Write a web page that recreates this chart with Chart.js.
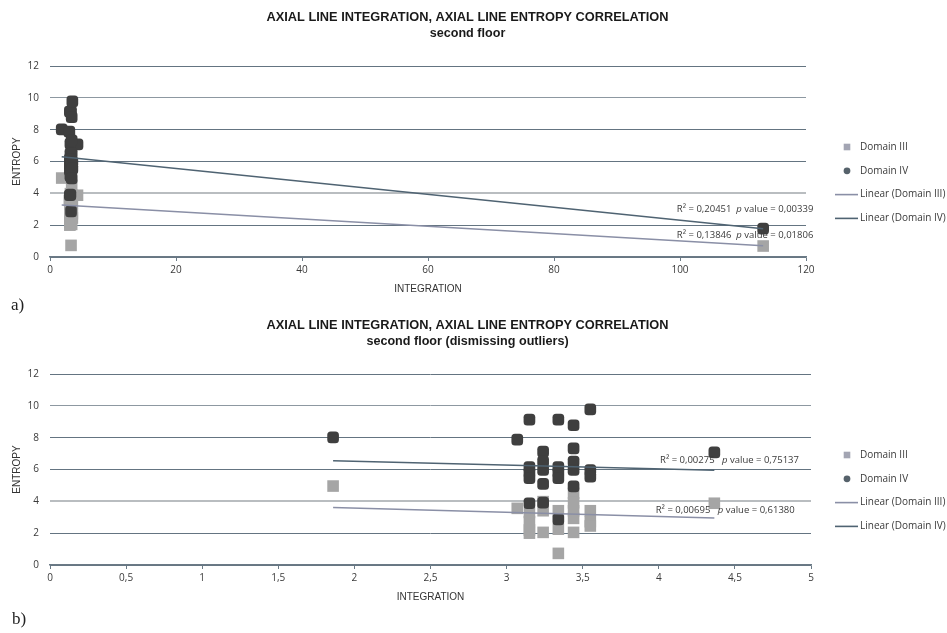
<!DOCTYPE html>
<html>
<head>
<meta charset="utf-8">
<script src="https://cdn.jsdelivr.net/npm/chart.js@4.4.0/dist/chart.umd.min.js"></script>
<style>
  html, body { margin: 0; padding: 0; background: #ffffff; }
  #page { position: relative; width: 947px; height: 633px; overflow: hidden; background: #ffffff; }
  #page canvas { position: absolute; left: 0; }
  .tag { position: absolute; font-family: "Liberation Serif", "DejaVu Serif", serif; font-size: 17px; color: #222; line-height: 1; }
</style>
</head>
<body>
<div id="page">
  <canvas id="chartA" width="947" height="300" style="top:0px"></canvas>
  <canvas id="chartB" width="947" height="300" style="top:308px"></canvas>
  <div class="tag" style="left:11px; top:296px">a)</div>
  <div class="tag" style="left:12px; top:610px">b)</div>
</div>
<script>
// ---- series names ----
const seriesNames = ['Domain III', 'Domain IV'];
const trendNames = ['Linear (Domain III)', 'Linear (Domain IV)'];

// ---- axial lines of the second floor: integration (x) and entropy (y) ----
const domain3Integration = [1.86, 3.07, 3.15, 3.15, 3.15, 3.15, 3.24, 3.24, 3.24, 3.34, 3.34, 3.34, 3.44, 3.44, 3.44, 3.44, 3.44, 3.55, 3.55, 3.55, 4.365];
const domain3Entropy     = [4.96, 3.56, 3.30, 2.72, 2.20, 2.00, 3.98, 3.41, 2.05, 3.41, 2.25, 0.73, 4.50, 3.91, 3.41, 2.93, 2.05, 3.41, 2.72, 2.45, 3.88];

const domain4Integration = [1.86, 3.07, 3.15, 3.34, 3.44, 3.55, 4.365, 3.24, 3.44, 3.24, 3.44, 3.15, 3.15, 3.15, 3.24, 3.34, 3.34, 3.34, 3.44, 3.55, 3.55, 3.24, 3.44, 3.15, 3.24, 3.34];
const domain4Entropy     = [8.02, 7.88, 9.13, 9.13, 8.78, 9.78, 7.08, 7.12, 7.33, 6.49, 6.49, 6.15, 5.80, 5.45, 5.97, 6.15, 5.80, 5.45, 5.97, 5.97, 5.55, 5.10, 4.94, 3.88, 3.92, 2.87];

// the outlying axial line (kept in the full set only)
const outlierIntegration = [113.2];
const outlierEntropy3 = [0.69];
const outlierEntropy4 = [1.78];

// ---- linear trendlines (start / end) ----
const trendAllX = [1.86, 113.2];
const trendAll3 = [3.27, 0.70];
const trendAll4 = [6.30, 1.78];
const trendClusterX = [1.86, 4.365];
const trendCluster3 = [3.62, 2.95];
const trendCluster4 = [6.55, 5.95];

// ---- fit statistics ----
const fitAllR2 = ['0,13846', '0,20451'];
const fitAllP  = ['0,01806', '0,00339'];
const fitClusterR2 = ['0,00695', '0,00275'];
const fitClusterP  = ['0,61380', '0,75137'];

// ---- tick labels ----
const yTickLabels = ['0', '2', '4', '6', '8', '10', '12'];
const xTickLabelsAll = ['0', '20', '40', '60', '80', '100', '120'];
const xTickLabelsCluster = ['0', '0,5', '1', '1,5', '2', '2,5', '3', '3,5', '4', '4,5', '5'];

const titleMain = 'AXIAL LINE INTEGRATION, AXIAL LINE ENTROPY CORRELATION';
const subtitleAll = 'second floor';
const subtitleCluster = 'second floor (dismissing outliers)';

// ---- helpers ----
const toPoints = (xs, ys) => xs.map((x, i) => ({ x: x, y: ys[i] }));

const palette = {
  d3Point: '#a5a5a5', d4Point: '#3f3f3f',
  d3Trend: '#8a8fa6', d4Trend: '#4f6372',
  d3Legend: '#a3a5b3', d4Legend: '#56626b',
  grid: '#647481', gridLight: '#b9bdc0', gridMid: '#8d98a1', axis: '#6b7a86',
  text: '#3a3a3a', title: '#1a1a1a'
};

// titles, legend and fit labels painted over the chart
const decor = {
  id: 'decor',
  afterDraw(chart, args, o) {
    const ctx = chart.ctx;
    const xs = chart.scales.x, ys = chart.scales.y;
    ctx.save();
    // title block
    ctx.fillStyle = palette.title;
    ctx.textAlign = 'center';
    ctx.textBaseline = 'middle';
    ctx.font = 'bold 12.8px "Liberation Sans", Arial, sans-serif';
    ctx.fillText(o.title, o.titleX, o.titleY[0]);
    ctx.font = 'bold 12.6px "Liberation Sans", Arial, sans-serif';
    ctx.fillText(o.subtitle, o.titleX, o.titleY[1]);

    // legend
    ctx.textAlign = 'left';
    ctx.font = '10px "Open Sans", sans-serif';
    o.legend.forEach((item, i) => {
      const y = o.legendTop + i * o.legendStep;
      if (item.kind === 'square') {
        ctx.fillStyle = item.color;
        ctx.fillRect(o.legendMarkX - 3.3, y - 3.3, 6.6, 6.6);
      } else if (item.kind === 'circle') {
        ctx.fillStyle = item.color;
        ctx.beginPath();
        ctx.arc(o.legendMarkX, y, 3.4, 0, Math.PI * 2);
        ctx.fill();
      } else {
        ctx.strokeStyle = item.color;
        ctx.lineWidth = 1.6;
        ctx.beginPath();
        ctx.moveTo(o.legendLineX[0], y);
        ctx.lineTo(o.legendLineX[1], y);
        ctx.stroke();
      }
      ctx.fillStyle = palette.text;
      ctx.fillText(item.text, o.legendTextX, y);
    });

    // fit statistics next to each trendline
    ctx.fillStyle = palette.text;
    o.fits.forEach(f => {
      let x = xs.getPixelForValue(f.at[0]);
      const y = ys.getPixelForValue(f.at[1]);
      const parts = [
        ['9.5px "Open Sans", sans-serif', 'R\u00B2 = ' + f.r2 + f.gap],
        ['italic 9.5px "Open Sans", sans-serif', 'p'],
        ['9.5px "Open Sans", sans-serif', ' value = ' + f.p]
      ];
      parts.forEach(([font, txt]) => {
        ctx.font = font;
        ctx.fillText(txt, x, y);
        x += ctx.measureText(txt).width;
      });
    });
    ctx.restore();
  }
};

function gridColor(c) {
  const v = c.tick ? c.tick.value : null;
  if (v === 4) return palette.gridLight;
  if (v === 10) return palette.gridMid;
  return palette.grid;
}

function makeChart(id, d, xCfg, padRight, decorOpts) {
  return new Chart(document.getElementById(id), {
    type: 'scatter',
    data: {
      datasets: [
        { label: trendNames[1], data: d.t4, showLine: true, borderColor: palette.d4Trend, borderWidth: 1.5, pointRadius: 0, order: 0 },
        { label: trendNames[0], data: d.t3, showLine: true, borderColor: palette.d3Trend, borderWidth: 1.5, pointRadius: 0, order: 0 },
        { label: seriesNames[1], data: d.p4, pointStyle: 'rectRounded', pointRadius: 6.8, backgroundColor: palette.d4Point, borderColor: palette.d4Point, borderWidth: 0, order: 1 },
        { label: seriesNames[0], data: d.p3, pointStyle: 'rect', pointRadius: 8.2, backgroundColor: palette.d3Point, borderColor: palette.d3Point, borderWidth: 0, order: 2 }
      ]
    },
    options: {
      responsive: false,
      animation: false,
      layout: { padding: { top: 66, left: 0, right: padRight, bottom: 0 } },
      plugins: {
        legend: { display: false },
        tooltip: { enabled: false },
        decor: decorOpts
      },
      scales: {
        x: {
          type: 'linear',
          min: xCfg.min, max: xCfg.max,
          ticks: {
            stepSize: xCfg.step,
            callback: (v, i) => xCfg.labels[i],
            font: { family: '"Open Sans", sans-serif', size: 10 },
            color: palette.text,
            padding: 3,
            maxRotation: 0
          },
          grid: { drawOnChartArea: false, tickLength: 4, color: palette.axis },
          border: { display: true, color: palette.axis, width: 1.5 },
          title: {
            display: true, text: 'INTEGRATION',
            font: { family: '"Liberation Sans", Arial, sans-serif', size: 10 },
            color: '#333333',
            padding: { top: 0, bottom: 5 }
          },
          afterFit: s => { s.height = 43; }
        },
        y: {
          min: 0, max: 12,
          ticks: {
            stepSize: 2,
            callback: (v, i) => yTickLabels[i],
            font: { family: '"Open Sans", sans-serif', size: 10 },
            color: palette.text,
            padding: 11
          },
          grid: { drawTicks: false, color: gridColor, lineWidth: c => (c.tick && c.tick.value === 4 ? 2 : 1) },
          border: { display: false },
          title: {
            display: true, text: 'ENTROPY',
            font: { family: '"Liberation Sans", Arial, sans-serif', size: 10 },
            color: '#333333',
            padding: { top: 11, bottom: 0 }
          },
          afterFit: s => { s.width = 50; }
        }
      }
    },
    plugins: [decor]
  });
}

const legendItems = [
  { kind: 'square', color: palette.d3Legend, text: seriesNames[0] },
  { kind: 'circle', color: palette.d4Legend, text: seriesNames[1] },
  { kind: 'line', color: palette.d3Trend, text: trendNames[0] },
  { kind: 'line', color: palette.d4Trend, text: trendNames[1] }
];

const legendLayout = {
  legend: legendItems, legendTop: 147, legendStep: 23.8,
  legendMarkX: 847, legendLineX: [835, 858], legendTextX: 860,
  titleX: 467.5, titleY: [17.5, 33.5]
};

// a) all axial lines
makeChart('chartA', {
  p3: toPoints(domain3Integration.concat(outlierIntegration), domain3Entropy.concat(outlierEntropy3)),
  p4: toPoints(domain4Integration.concat(outlierIntegration), domain4Entropy.concat(outlierEntropy4)),
  t3: toPoints(trendAllX, trendAll3),
  t4: toPoints(trendAllX, trendAll4)
}, { min: 0, max: 120, step: 20, labels: xTickLabelsAll }, 141, Object.assign({}, legendLayout, {
  title: titleMain, subtitle: subtitleAll,
  fits: [
    { r2: fitAllR2[1], p: fitAllP[1], gap: '  ', at: [99.5, 3.0] },
    { r2: fitAllR2[0], p: fitAllP[0], gap: '  ', at: [99.5, 1.34] }
  ]
}));

// b) without the outlying line
makeChart('chartB', {
  p3: toPoints(domain3Integration, domain3Entropy),
  p4: toPoints(domain4Integration, domain4Entropy),
  t3: toPoints(trendClusterX, trendCluster3),
  t4: toPoints(trendClusterX, trendCluster4)
}, { min: 0, max: 5, step: 0.5, labels: xTickLabelsCluster }, 136, Object.assign({}, legendLayout, {
  title: titleMain, subtitle: subtitleCluster,
  fits: [
    { r2: fitClusterR2[1], p: fitClusterP[1], gap: '   ', at: [4.008, 6.55] },
    { r2: fitClusterR2[0], p: fitClusterP[0], gap: '   ', at: [3.98, 3.41] }
  ]
}));
</script>
</body>
</html>
